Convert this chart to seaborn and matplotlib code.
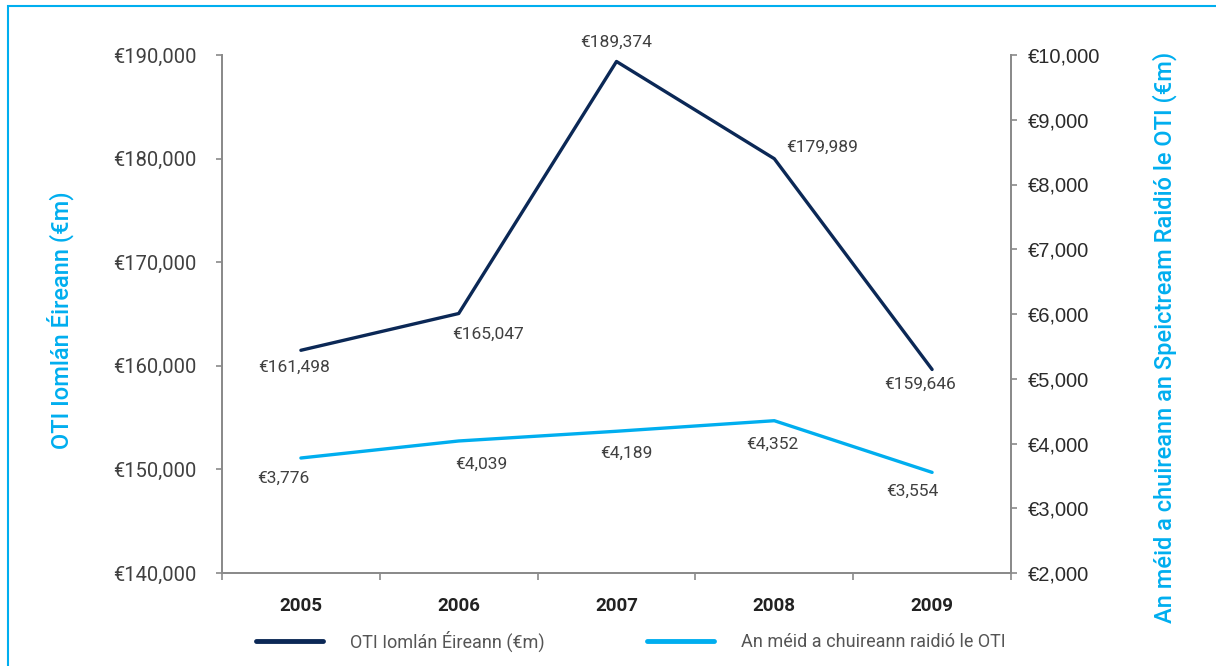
import matplotlib
matplotlib.use("Agg")
import matplotlib.pyplot as plt
import seaborn as sns
import pandas as pd
from matplotlib.patches import Rectangle
from matplotlib.lines import Line2D

# data
years = ["2005", "2006", "2007", "2008", "2009"]
gdp_total = [161498, 165047, 189374, 179989, 159646]      # OTI Iomlán Éireann (€m)
radio_contrib = [3776, 4039, 4189, 4352, 3554]            # An méid a chuireann raidió le OTI

left_ticks = [140000, 150000, 160000, 170000, 180000, 190000]
right_ticks = [2000, 3000, 4000, 5000, 6000, 7000, 8000, 9000, 10000]

# label offsets in pixels (dx, dy) relative to each point
dark_offsets = [(-7, -17), (29, -21), (0, 19), (48, 11), (-12, -15)]
light_offsets = [(-18, -20), (23, -23), (10, -22), (-2, -24), (-20, -19)]

NAVY = "#0b2856"
CYAN = "#00aeef"
GREY_TXT = "#404040"
SPINE = "#8a8a8a"

sns.set_style("white")
plt.rcParams["font.family"] = ["Roboto", "DejaVu Sans"]

df = pd.DataFrame({"year": years, "total": gdp_total, "radio": radio_contrib})
df["x"] = range(len(years))

fig = plt.figure(figsize=(12.16, 6.66), dpi=100)
ax = fig.add_axes([222 / 1216, 1 - 573 / 666, (1011 - 222) / 1216, (573 - 55) / 666])
ax2 = ax.twinx()

sns.lineplot(data=df, x="x", y="total", ax=ax, color=NAVY, linewidth=2.4, legend=False)
sns.lineplot(data=df, x="x", y="radio", ax=ax2, color=CYAN, linewidth=2.4, legend=False)

ax.set_xlim(-0.5, len(years) - 0.5)
ax.set_ylim(140000, 190000)
ax2.set_ylim(2000, 10000)

ax.set_xticks(range(len(years)))
ax.set_xticklabels(years, fontsize=13.5, fontweight="bold", color="#222222")
ax.set_xticks([i - 0.5 for i in range(len(years) + 1)], minor=True)
ax.tick_params(axis="x", which="major", length=0, pad=17)
ax.tick_params(axis="x", which="minor", length=5, width=1.2, color=SPINE, direction="out", bottom=True)

ax.set_yticks(left_ticks)
ax.set_yticklabels(["€{:,}".format(v) for v in left_ticks], fontsize=14.5, color=GREY_TXT)
ax.tick_params(axis="y", length=4, width=1.2, color=SPINE, pad=14, left=True)

ax2.set_yticks(right_ticks)
ax2.set_yticklabels(["€{:,}".format(v) for v in right_ticks], fontsize=14.5,
                    color="#2a2a2a", family=["Liberation Sans", "DejaVu Sans"])
ax2.tick_params(axis="y", length=4, width=1.2, color=SPINE, pad=8, right=True)

for a in (ax, ax2):
    a.set_xlabel("")
    a.set_ylabel("")
    a.spines["top"].set_visible(False)
    for s in ("left", "right", "bottom"):
        a.spines[s].set_color(SPINE)
        a.spines[s].set_linewidth(1.3)

for i, (v, off) in enumerate(zip(gdp_total, dark_offsets)):
    ax.annotate("€{:,}".format(v), (i, v), xytext=off, textcoords="offset pixels",
                ha="center", va="center", fontsize=12.5, color=GREY_TXT)
for i, (v, off) in enumerate(zip(radio_contrib, light_offsets)):
    ax2.annotate("€{:,}".format(v), (i, v), xytext=off, textcoords="offset pixels",
                 ha="center", va="center", fontsize=12.5, color=GREY_TXT)

fig.text(60 / 1216, 1 - 320 / 666, "OTI Iomlán Éireann (€m)", rotation=90,
         ha="center", va="center", fontsize=17, fontweight="medium", color=CYAN)
fig.text(1165 / 1216, 1 - 337 / 666, "An méid a chuireann an Speictream Raidió le OTI (€m)",
         rotation=90, ha="center", va="center", fontsize=17, fontweight="medium", color=CYAN)

handles = [Line2D([], [], color=NAVY, linewidth=3.5),
           Line2D([], [], color=CYAN, linewidth=3.5)]
fig.legend(handles, ["OTI Iomlán Éireann (€m)", "An méid a chuireann raidió le OTI"],
           loc="center", bbox_to_anchor=(631 / 1216, 1 - 641 / 666), ncol=2, frameon=False,
           prop={"size": 13}, handlelength=3.7, handletextpad=1.5,
           columnspacing=5.7, labelcolor="#555555")

fig.add_artist(Rectangle((8 / 1216, -0.05), 1.1, 1 - 6 / 666 + 0.05, transform=fig.transFigure,
                         fill=False, edgecolor=CYAN, linewidth=1.5))

fig.savefig("out.png", dpi=100)
